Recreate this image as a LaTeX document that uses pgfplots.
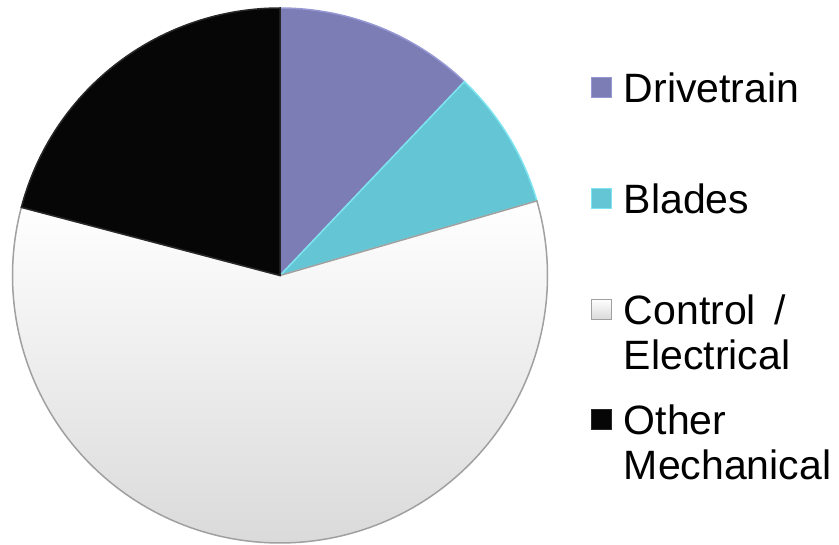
\documentclass[border=0pt]{standalone}
\usepackage{pgfplots}
\pgfplotsset{compat=1.18}
\usepackage{pgfplotstable}
\usepackage{fontspec}
\setmainfont{Liberation Sans}

\definecolor{drive}{RGB}{124,125,180}
\definecolor{driveedge}{RGB}{150,152,212}
\definecolor{blade}{RGB}{100,198,212}
\definecolor{bladeedge}{RGB}{125,228,240}
\definecolor{ctrlbot}{RGB}{218,218,218}
\definecolor{ctrledge}{RGB}{160,160,160}
\definecolor{other}{RGB}{6,6,6}
\definecolor{otheredge}{RGB}{40,40,40}

\pgfplotstableread{
part value
Drivetrain 12.1
Blades 8.4
Control 58.6
Other 20.9
}\piedata

\begin{document}
\begin{tikzpicture}
\pgfplotstablegetelem{0}{value}\of\piedata \let\vA\pgfplotsretval
\pgfplotstablegetelem{1}{value}\of\piedata \let\vB\pgfplotsretval
\pgfplotstablegetelem{2}{value}\of\piedata \let\vC\pgfplotsretval
\pgfplotstablegetelem{3}{value}\of\piedata \let\vD\pgfplotsretval
\pgfmathsetmacro\aA{90}
\pgfmathsetmacro\aB{\aA-3.6*\vA}
\pgfmathsetmacro\aC{\aB-3.6*\vB}
\pgfmathsetmacro\aD{\aC-3.6*\vC}
\pgfmathsetmacro\aE{\aD-3.6*\vD}
\begin{axis}[
  hide axis, scale only axis,
  width=535bp, height=535bp,
  xmin=-1, xmax=1, ymin=-1, ymax=1,
  at={(12.5bp,2bp)}, anchor=south west, clip=false,
  legend style={draw=none, fill=none,
    at={(axis description cs:1.0755,0.9588)}, anchor=north west,
    font=\fontsize{41bp}{45bp}\selectfont,
    nodes={inner sep=0pt, text height=70.5bp, text depth=40.2bp},
    row sep=0pt, /tikz/column sep=12bp},
  legend cell align=left,
  legend image code/.code={\draw[#1, line width=0.8bp] (1bp,-10bp) rectangle (21bp,10bp);},
]
\addplot[fill=drive, draw=driveedge, line width=1.5bp, domain=\aB:\aA, samples=60, variable=\t]
  ({cos(t)},{sin(t)}) -- (axis cs:0,0) -- cycle;
\addlegendentry{\parbox[t]{220bp}{Drivetrain}}
\addplot[fill=blade, draw=bladeedge, line width=1.5bp, domain=\aC:\aB, samples=40, variable=\t]
  ({cos(t)},{sin(t)}) -- (axis cs:0,0) -- cycle;
\addlegendentry{\parbox[t]{220bp}{Blades}}
\addplot[top color=white, bottom color=ctrlbot, draw=ctrledge, line width=1.5bp, domain=\aD:\aC, samples=150, variable=\t]
  ({cos(t)},{sin(t)}) -- (axis cs:0,0) -- cycle;
\addlegendentry{\parbox[t]{220bp}{Control\hspace{0.45em}/\\Electrical}}
\addplot[fill=other, draw=otheredge, line width=1.5bp, domain=\aE:\aD, samples=60, variable=\t]
  ({cos(t)},{sin(t)}) -- (axis cs:0,0) -- cycle;
\addlegendentry{\parbox[t]{220bp}{Other\\Mechanical}}
\end{axis}
\pgfresetboundingbox
\useasboundingbox (0,0) rectangle (839bp,545bp);
\end{tikzpicture}
\end{document}
